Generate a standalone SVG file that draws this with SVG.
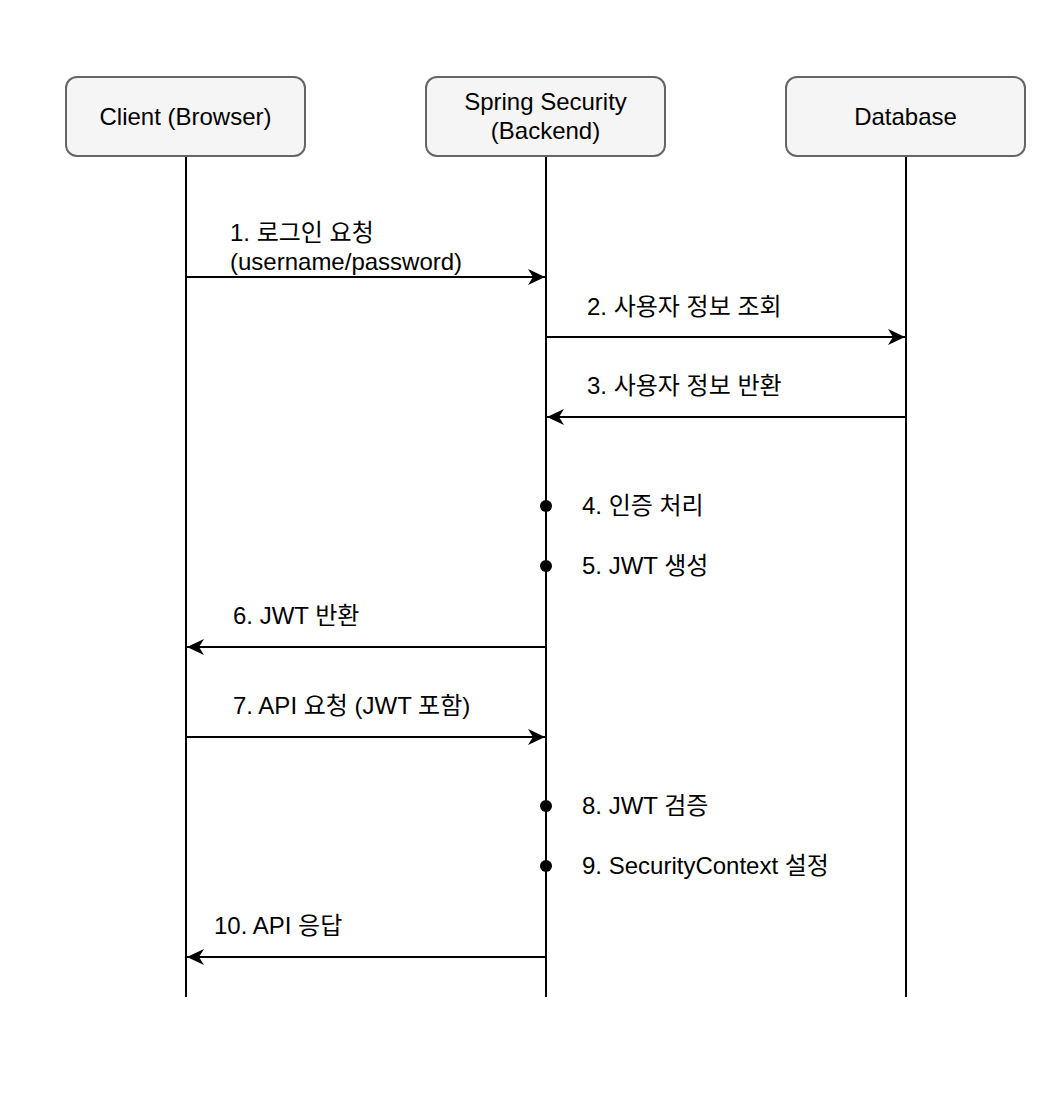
<svg xmlns="http://www.w3.org/2000/svg" width="1062" height="1104" viewBox="0 0 1062 1104">
<style>
  .box { fill: #f5f5f5; stroke: #666666; stroke-width: 2; }
  .life { stroke: #000000; stroke-width: 2; fill: none; }
  .msg { stroke: #000000; stroke-width: 2; fill: none; marker-end: url(#arrow); }
  .dot { fill: #000000; }
  text { font-family: "Liberation Sans", "Noto Sans CJK KR", Arial, sans-serif; font-size: 24px; fill: #000000; }
  .c { text-anchor: middle; }
</style>
<defs>
  <marker id="arrow" markerUnits="userSpaceOnUse" markerWidth="18" markerHeight="18" viewBox="0 0 18 18" refX="17" refY="9" orient="auto">
    <path d="M0,1 L17,9 L0,17 L5,9 Z" fill="#000000"/>
  </marker>
</defs>
<rect width="1062" height="1104" fill="#ffffff"/>
<g id="connectors">
  <line class="life" x1="186" y1="157" x2="186" y2="997"/>
  <line class="life" x1="546" y1="157" x2="546" y2="997"/>
  <line class="life" x1="906" y1="157" x2="906" y2="997"/>
  <line class="msg" x1="186" y1="277" x2="545" y2="277"/>
  <line class="msg" x1="546" y1="337" x2="905" y2="337"/>
  <line class="msg" x1="906" y1="417" x2="547" y2="417"/>
  <line class="msg" x1="546" y1="647" x2="187" y2="647"/>
  <line class="msg" x1="186" y1="737" x2="545" y2="737"/>
  <line class="msg" x1="546" y1="957" x2="187" y2="957"/>
  <circle class="dot" cx="546" cy="506" r="6"/>
  <circle class="dot" cx="546" cy="566" r="6"/>
  <circle class="dot" cx="546" cy="806" r="6"/>
  <circle class="dot" cx="546" cy="866" r="6"/>
</g>
<g id="client">
  <rect class="box" x="66" y="77" width="239" height="79" rx="11" ry="11"/>
  <text class="c" x="185.5" y="125">Client (Browser)</text>
</g>
<g id="spring">
  <rect class="box" x="426" y="77" width="239" height="79" rx="11" ry="11"/>
  <text class="c" x="545.5" y="110">Spring Security</text>
  <text class="c" x="545.5" y="139">(Backend)</text>
</g>
<g id="database">
  <rect class="box" x="786" y="77" width="239" height="79" rx="11" ry="11"/>
  <text class="c" x="905.5" y="125">Database</text>
</g>
<g id="labels">
  <text x="230" y="241">1. 로그인 요청</text>
  <text x="230" y="270">(username/password)</text>
  <text x="587" y="315">2. 사용자 정보 조회</text>
  <text x="587" y="394">3. 사용자 정보 반환</text>
  <text x="582" y="514">4. 인증 처리</text>
  <text x="582" y="574">5. JWT 생성</text>
  <text x="233" y="624">6. JWT 반환</text>
  <text x="233" y="714">7. API 요청 (JWT 포함)</text>
  <text x="582" y="814">8. JWT 검증</text>
  <text x="582" y="874">9. SecurityContext 설정</text>
  <text x="214" y="934">10. API 응답</text>
</g>
</svg>
